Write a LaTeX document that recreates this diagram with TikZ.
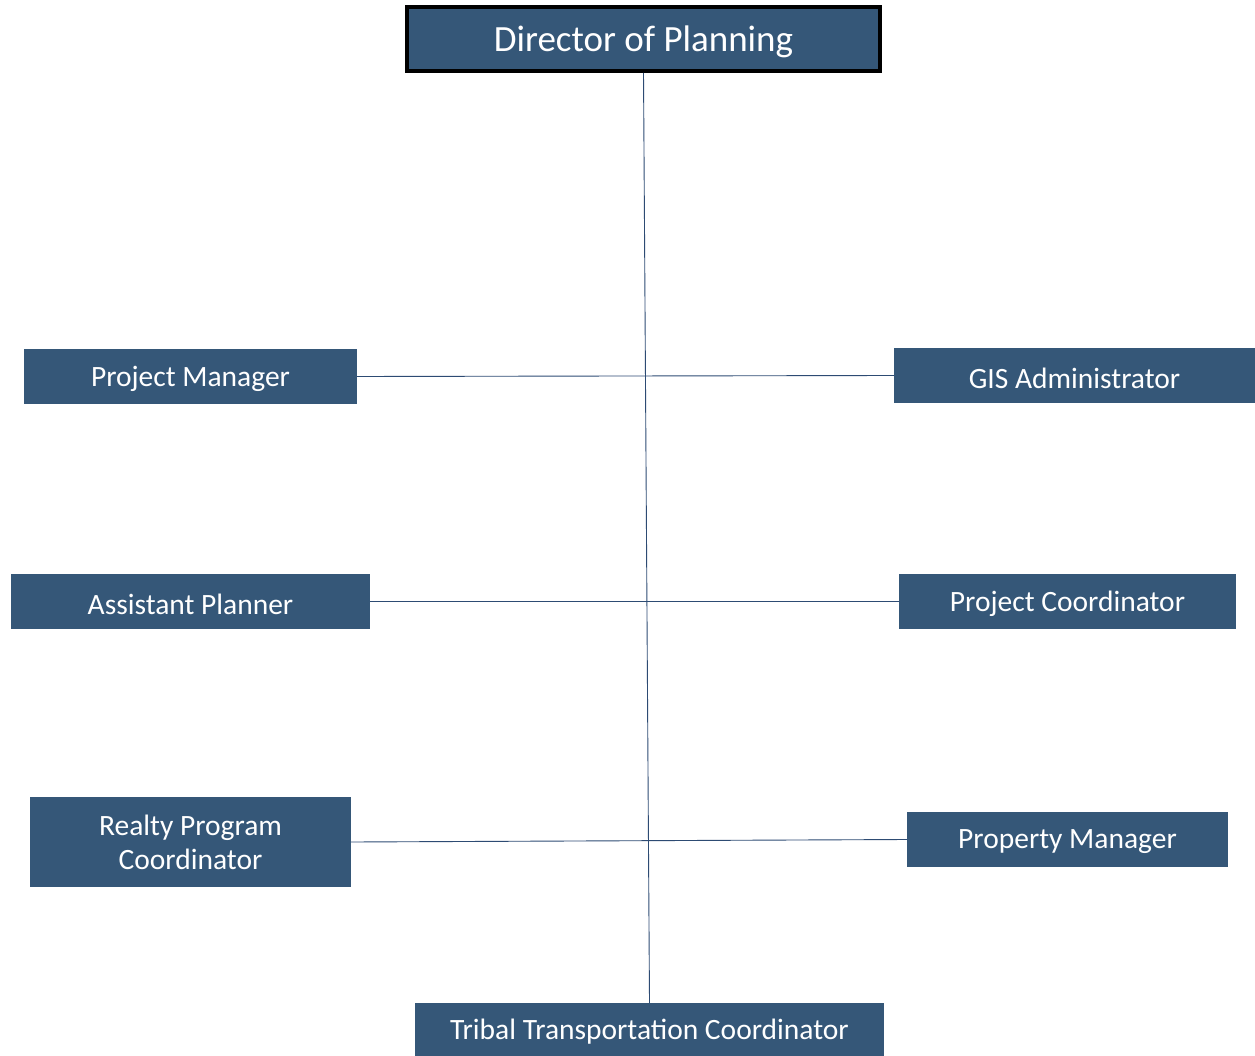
\documentclass[tikz,border=0pt]{standalone}
\usepackage{fontspec}
\setmainfont{Carlito}
\definecolor{boxblue}{RGB}{53,87,120}
\definecolor{linkblue}{RGB}{45,75,115}
\newcommand{\lowtext}[1]{\raisebox{-2.5pt}[\height][\depth]{#1}}
\begin{document}
\begin{tikzpicture}[x=1pt,y=-1pt,
  role/.style={fill=boxblue,draw=none,text=white,inner sep=0pt,align=center,
    font=\fontsize{29.5}{34}\selectfont},
  link/.style={draw=linkblue,line width=0.9pt}]
\useasboundingbox (0,0) rectangle (1255,1056);
\node[role,draw=black,line width=4pt,minimum width=473,minimum height=64,
  font=\fontsize{37}{42}\selectfont] (dir) at (643.5,39) {\lowtext{Director of Planning}};
\node[role,minimum width=333,minimum height=55] (pm) at (190.5,376.5) {\lowtext{Project Manager}};
\node[role,minimum width=361,minimum height=55] (gis) at (1074.5,375.5) {\lowtext{GIS Administrator}};
\node[role,minimum width=359,minimum height=55] (ap) at (190.5,601.5) {\lowtext{Assistant Planner}};
\node[role,minimum width=337,minimum height=55] (pc) at (1067.5,601.5) {\lowtext{Project Coordinator}};
\node[role,minimum width=321,minimum height=90] (rpc) at (190.5,842) {Realty Program\\Coordinator};
\node[role,minimum width=321,minimum height=55] (prop) at (1067.5,839.5) {\lowtext{Property Manager}};
\node[role,minimum width=469,minimum height=53] (ttc) at (649.5,1029.5) {\lowtext{Tribal Transportation Coordinator}};
\draw[link] (dir.south) -- (ttc.north);
\draw[link] (pm.east) -- (gis.west);
\draw[link] (ap.east) -- (pc.west);
\draw[link] (rpc.east) -- (prop.west);
\end{tikzpicture}
\end{document}
